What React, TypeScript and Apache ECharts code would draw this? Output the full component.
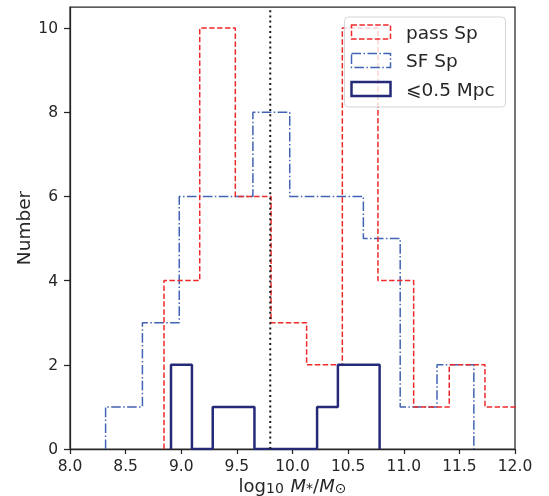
import React, { useEffect, useRef } from "react";
import * as echarts from "echarts";

// Histogram bin edges and counts
const passEdges = [8.845, 9.166, 9.486, 9.807, 10.127, 10.448, 10.768, 11.089, 11.409, 11.73, 12.05];
const passCounts = [4, 10, 6, 3, 2, 10, 4, 1, 2, 1];

const sfEdges = [8.32, 8.651, 8.982, 9.313, 9.644, 9.975, 10.306, 10.637, 10.968, 11.299, 11.63];
const sfCounts = [1, 3, 6, 6, 8, 6, 6, 5, 1, 2];

const nearEdges = [8.908, 9.096, 9.283, 9.471, 9.658, 9.846, 10.033, 10.221, 10.408, 10.596, 10.783];
const nearCounts = [2, 0, 1, 1, 0, 0, 0, 1, 2, 2];

const vLineX = 9.8;
const xTicks = [8.0, 8.5, 9.0, 9.5, 10.0, 10.5, 11.0, 11.5, 12.0];
const yTicks = [0, 2, 4, 6, 8, 10];

const legendNames = ["pass Sp", "SF Sp", "⩽0.5 Mpc"];

function stepPoints(edges: number[], counts: number[]): number[][] {
  const pts: number[][] = [[edges[0], 0]];
  for (let i = 0; i < counts.length; i++) {
    pts.push([edges[i], counts[i]]);
    pts.push([edges[i + 1], counts[i]]);
  }
  pts.push([edges[edges.length - 1], 0]);
  return pts;
}

const FONT = "DejaVu Sans";
const TXT = "#262626";
const RED = "#ee2a2a";
const BLUE = "#4163b3";
const NAVY = "#242a78";

export default function App() {
  const ref = useRef<HTMLDivElement>(null);
  useEffect(() => {
    if (!ref.current) return;
    const chart = echarts.init(ref.current, undefined, { renderer: "svg" });
    const rowY = [32, 60.5, 89];
    const option: any = {
      animation: false,
      grid: {
        left: 70,
        right: 34,
        top: 7,
        bottom: 47,
        outerBoundsMode: "none",
        containLabel: false,
        show: true,
        borderColor: TXT,
        borderWidth: 1.25,
        backgroundColor: "transparent",
      },
      xAxis: {
        type: "value",
        min: 8,
        max: 12,
        interval: 0.5,
        name: "{n|log}{s|10}  {i|M}{s|*}{n|/}{i|M}{s|⊙}",
        nameLocation: "middle",
        nameGap: 27,
        nameMoveOverlap: false,
        nameTextStyle: {
          rich: {
            n: { fontSize: 18, fontFamily: FONT, color: TXT },
            i: { fontSize: 18, fontFamily: FONT, fontStyle: "italic", color: TXT },
            s: { fontSize: 14, fontFamily: FONT, color: TXT, padding: [5, 0, 0, 0] },
          },
        },
        axisLine: { show: true, lineStyle: { color: TXT, width: 1.25 } },
        axisTick: { show: true, length: 5, lineStyle: { color: TXT, width: 1.25 }, customValues: xTicks },
        axisLabel: {
          fontSize: 15.5,
          lineHeight: 12,
          fontFamily: FONT,
          color: TXT,
          margin: 11,
          customValues: xTicks,
          formatter: (v: number) => v.toFixed(1),
        },
        splitLine: { show: false },
      },
      yAxis: {
        type: "value",
        min: 0,
        max: 10.5,
        interval: 2,
        name: "Number",
        nameLocation: "middle",
        nameGap: 37,
        nameMoveOverlap: false,
        nameTextStyle: { fontSize: 18.5, fontFamily: FONT, color: TXT },
        axisLine: { show: true, lineStyle: { color: TXT, width: 1.25 } },
        axisTick: { show: true, length: 6, lineStyle: { color: TXT, width: 1.25 }, customValues: yTicks },
        axisLabel: {
          fontSize: 15.5,
          fontFamily: FONT,
          color: TXT,
          margin: 12,
          customValues: yTicks,
        },
        splitLine: { show: false },
      },
      series: [
        {
          name: legendNames[0],
          type: "line",
          data: stepPoints(passEdges, passCounts),
          symbol: "none",
          clip: true,
          lineStyle: { color: RED, width: 1.5, type: [5.5, 2.4] },
          z: 3,
        },
        {
          name: legendNames[1],
          type: "line",
          data: stepPoints(sfEdges, sfCounts),
          symbol: "none",
          clip: true,
          lineStyle: { color: BLUE, width: 1.5, type: [9.6, 2.4, 1.5, 2.4] },
          z: 2,
        },
        {
          name: legendNames[2],
          type: "line",
          data: stepPoints(nearEdges, nearCounts),
          symbol: "none",
          clip: true,
          lineStyle: { color: NAVY, width: 2.5 },
          z: 4,
        },
        {
          name: "vline",
          type: "line",
          data: [
            [vLineX, 0],
            [vLineX, 10.5],
          ],
          symbol: "none",
          lineStyle: { color: "#1a1a1a", width: 2, type: [2, 3.2] },
          z: 5,
        },
      ],
      graphic: [
        {
          type: "rect",
          z: 100,
          shape: { x: 344.5, y: 17, width: 161, height: 90, r: 4 },
          style: { fill: "rgba(255,255,255,0.8)", stroke: "rgba(204,204,204,0.8)", lineWidth: 1 },
        },
        {
          type: "rect",
          z: 101,
          shape: { x: 351.5, y: rowY[0] - 7, width: 39, height: 14 },
          style: { fill: "none", stroke: RED, lineWidth: 1.5, lineDash: [5.5, 2.4] },
        },
        {
          type: "rect",
          z: 101,
          shape: { x: 351.5, y: rowY[1] - 7, width: 39, height: 14 },
          style: { fill: "none", stroke: BLUE, lineWidth: 1.5, lineDash: [9.6, 2.4, 1.5, 2.4] },
        },
        {
          type: "rect",
          z: 101,
          shape: { x: 351.5, y: rowY[2] - 7, width: 39, height: 14 },
          style: { fill: "none", stroke: NAVY, lineWidth: 2.5 },
        },
        ...legendNames.map((t, k) => ({
          type: "text",
          z: 101,
          x: 406,
          y: rowY[k],
          style: {
            text: t,
            fontSize: 18.5,
            fontFamily: FONT,
            fill: TXT,
            align: "left",
            verticalAlign: "middle",
          },
        })),
      ],
    };
    chart.setOption(option);
    return () => chart.dispose();
  }, []);
  return (
    <div
      ref={ref}
      style={{ position: "fixed", left: 0, top: 0, width: 549, height: 496 }}
    />
  );
}
